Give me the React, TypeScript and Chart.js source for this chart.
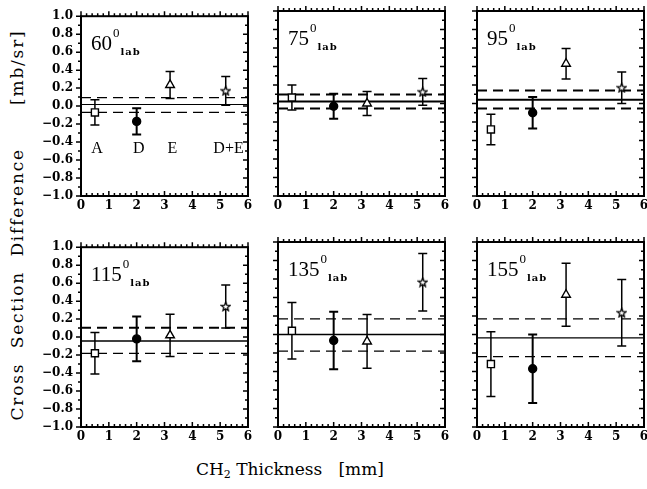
import React, { useEffect, useRef } from "react";
import { Chart, registerables } from "chart.js";

Chart.register(...registerables);

// ---- data ----
const angles = [60, 75, 95, 115, 135, 155];
const thickness = [0.5, 2.0, 3.2, 5.2];
const targetLabels = ["A", "D", "E", "D+E"];

const diffA = [-0.07, 0.065, -0.28, -0.18, 0.04, -0.32];
const errA = [0.14, 0.135, 0.165, 0.23, 0.305, 0.35];
const diffD = [-0.17, -0.03, -0.1, -0.02, -0.065, -0.37];
const errD = [0.145, 0.135, 0.17, 0.25, 0.31, 0.37];
const diffE = [0.235, 0.0, 0.43, 0.02, -0.075, 0.43];
const errE = [0.15, 0.13, 0.165, 0.235, 0.29, 0.34];
const diffDE = [0.17, 0.125, 0.17, 0.34, 0.565, 0.235];
const errDE = [0.16, 0.145, 0.17, 0.24, 0.31, 0.36];

const meanLine = [0.018, 0.022, 0.04, -0.043, 0.0, -0.036];
const bandUpper = [0.094, 0.098, 0.14, 0.104, 0.17, 0.17];
const bandLower = [-0.069, -0.054, -0.054, -0.18, -0.18, -0.24];

const xMin = 0;
const xMax = 6;
const yMin = -1;
const yMax = 1;

// ---- styles ----
const solidWidth = [1.2, 2, 2, 1.6, 1.6, 1.2];
const upperDashWidth = [1.2, 2, 2, 2, 1.2, 1.2];
const lowerDashWidth = [1.2, 2, 2, 1.2, 1.2, 1.2];

const COL_LEFT = [81, 278, 477];
const ROW_TOP = [11, 242];
const PLOT_W = 167;
const PLOT_H = 185;

let starImg: HTMLCanvasElement | null = null;
function getStar() {
  if (starImg) return starImg;
  const c = document.createElement("canvas");
  c.width = 11;
  c.height = 11;
  const ctx = c.getContext("2d")!;
  ctx.beginPath();
  for (let i = 0; i < 10; i++) {
    const r = i % 2 === 0 ? 4.6 : 2.0;
    const a = -Math.PI / 2 + (i * Math.PI) / 5;
    const x = 5.5 + r * Math.cos(a);
    const y = 5.8 + r * Math.sin(a);
    if (i === 0) ctx.moveTo(x, y);
    else ctx.lineTo(x, y);
  }
  ctx.closePath();
  ctx.fillStyle = "#fff";
  ctx.fill();
  ctx.lineWidth = 1.3;
  ctx.strokeStyle = "#000";
  ctx.stroke();
  starImg = c;
  return c;
}

function fmtY(v: number) {
  const n = Number(v);
  if (Math.abs(n) < 1e-9) return "0.0";
  const s = Math.abs(n).toFixed(1);
  return n < 0 ? "\u2212" + s : s;
}

function Panel({ idx }: { idx: number }) {
  const ref = useRef<HTMLCanvasElement>(null);
  const r = Math.floor(idx / 3);
  const c = idx % 3;
  const padL = c === 0 ? 50 : 10;
  const padR = 10;
  const padT = 10;
  const padB = 22;
  const W = padL + PLOT_W + padR;
  const H = padT + PLOT_H + padB;
  const left = COL_LEFT[c] - padL;
  const top = ROW_TOP[r] - padT;

  useEffect(() => {
    const vals = [diffA[idx], diffD[idx], diffE[idx], diffDE[idx]];
    const errs = [errA[idx], errD[idx], errE[idx], errDE[idx]];
    const star = getStar();

    const decor = {
      id: "decor",
      beforeDatasetDraw(chart: any, args: any) {
        if (args.index !== 3) return;
        const ctx = chart.ctx;
        const xs = chart.scales.x;
        const ys = chart.scales.y;
        ctx.save();
        ctx.strokeStyle = "#000";
        for (let i = 0; i < thickness.length; i++) {
          const px = xs.getPixelForValue(thickness[i]);
          const pt = ys.getPixelForValue(vals[i] + errs[i]);
          const pb = ys.getPixelForValue(vals[i] - errs[i]);
          ctx.lineWidth = i === 1 ? 2 : 1.5;
          ctx.beginPath();
          ctx.moveTo(px, pt);
          ctx.lineTo(px, pb);
          ctx.moveTo(px - 4.5, pt);
          ctx.lineTo(px + 4.5, pt);
          ctx.moveTo(px - 4.5, pb);
          ctx.lineTo(px + 4.5, pb);
          ctx.stroke();
        }
        ctx.restore();
      },
      afterDraw(chart: any) {
        const ctx = chart.ctx;
        const xs = chart.scales.x;
        const ys = chart.scales.y;
        const x0 = xs.getPixelForValue(xMin);
        const x1 = xs.getPixelForValue(xMax);
        const y0 = ys.getPixelForValue(yMax);
        const y1 = ys.getPixelForValue(yMin);
        ctx.save();
        ctx.strokeStyle = "#000";
        ctx.lineWidth = 2;
        ctx.strokeRect(x0, y0, x1 - x0, y1 - y0);
        ctx.lineWidth = 1.5;
        ctx.beginPath();
        // y ticks (pointing left on both sides)
        for (let k = -10; k <= 10; k++) {
          const py = ys.getPixelForValue(k / 10);
          const len = k % 2 === 0 ? 5 : 3;
          ctx.moveTo(x0 - len, py);
          ctx.lineTo(x0, py);
          ctx.moveTo(x1 - len, py);
          ctx.lineTo(x1, py);
        }
        // x ticks (pointing up on both sides)
        for (let k = 0; k <= 30; k++) {
          const px = xs.getPixelForValue(k / 5);
          const len = k % 5 === 0 ? 5 : 3;
          ctx.moveTo(px, y1);
          ctx.lineTo(px, y1 - len);
          ctx.moveTo(px, y0);
          ctx.lineTo(px, y0 - len);
        }
        ctx.stroke();

        // angle label
        ctx.fillStyle = "#000";
        ctx.textBaseline = "alphabetic";
        ctx.textAlign = "left";
        const lx = x0 + 10;
        ctx.font = "21px 'Liberation Serif'";
        const num = String(angles[idx]);
        ctx.fillText(num, lx, y0 + 34);
        const nw = ctx.measureText(num).width;
        ctx.font = "13px 'Liberation Serif'";
        ctx.fillText("0", lx + nw + 1, y0 + 21);
        const sw = ctx.measureText("0").width;
        ctx.font = "bold 10px 'DejaVu Serif'";
        (ctx as any).letterSpacing = "1px";
        ctx.fillText("lab", lx + nw + sw + 2, y0 + 39);
        (ctx as any).letterSpacing = "0px";

        if (idx === 0) {
          ctx.font = "16px 'Liberation Serif'";
          ctx.textAlign = "center";
          ctx.textBaseline = "middle";
          for (let i = 0; i < targetLabels.length; i++) {
            const px = xs.getPixelForValue(thickness[i] + (i === 3 ? 0.1 : 0.08));
            const py = ys.getPixelForValue(-0.48);
            ctx.fillText(targetLabels[i], px, py);
          }
        }
        ctx.restore();
      },
    };

    const lineDs = (y: number, w: number, dash: number[]) => ({
      type: "line" as const,
      data: [
        { x: xMin, y },
        { x: xMax, y },
      ],
      borderColor: "#000",
      borderWidth: w,
      borderDash: dash,
      pointRadius: 0,
      fill: false,
      order: 1,
    });

    const chart = new Chart(ref.current!, {
      type: "scatter",
      data: {
        datasets: [
          lineDs(meanLine[idx], solidWidth[idx], []),
          lineDs(bandUpper[idx], upperDashWidth[idx], [10, 6]),
          lineDs(bandLower[idx], lowerDashWidth[idx], [10, 6]),
          {
            type: "scatter" as const,
            data: thickness.map((x, i) => ({ x, y: vals[i] })),
            pointStyle: ["rect", "circle", "triangle", star] as any,
            pointRadius: [5, 4, 5, 5],
            backgroundColor: ["#fff", "#000", "#fff", "#fff"],
            borderColor: "#000",
            borderWidth: 1.4,
            order: 0,
          },
        ] as any,
      },
      options: {
        responsive: false,
        animation: false,
        devicePixelRatio: 1,
        color: "#000",
        layout: { padding: { left: 0, right: padR, top: padT, bottom: 0 } },
        plugins: {
          legend: { display: false },
          tooltip: { enabled: false },
        },
        scales: {
          x: {
            type: "linear",
            min: xMin,
            max: xMax,
            grid: { display: false, drawTicks: false },
            border: { display: false },
            ticks: {
              stepSize: 1,
              color: "#000",
              padding: 3,
              maxRotation: 0,
              autoSkip: false,
              font: { family: "'DejaVu Serif'", size: 12, weight: "bold" },
            },
            afterFit: (s: any) => {
              s.height = padB;
            },
          },
          y: {
            type: "linear",
            min: yMin,
            max: yMax,
            grid: { display: false, drawTicks: false },
            border: { display: false },
            ticks: {
              display: c === 0,
              stepSize: 0.2,
              color: "#000",
              padding: 8,
              autoSkip: false,
              font: { family: "'DejaVu Serif'", size: 12, weight: "bold" },
              callback: (v: any) => fmtY(v),
            },
            afterFit: (s: any) => {
              s.width = padL;
            },
          },
        },
      } as any,
      plugins: [decor],
    });
    return () => chart.destroy();
  }, [idx]);

  return (
    <canvas
      ref={ref}
      width={W}
      height={H}
      style={{ position: "absolute", left, top, width: W, height: H }}
    />
  );
}

export default function App() {
  return (
    <div
      style={{
        position: "absolute",
        left: 0,
        top: 0,
        width: 647,
        height: 489,
        background: "#fff",
        overflow: "hidden",
      }}
    >
      {angles.map((_, i) => (
        <Panel key={i} idx={i} />
      ))}
      <div
        style={{
          position: "absolute",
          left: 17,
          top: 225,
          transform: "translate(-50%, -50%) rotate(-90deg)",
          whiteSpace: "pre",
          fontFamily: "'DejaVu Serif'",
          fontSize: 17,
          letterSpacing: "1.8px",
          color: "#000",
          lineHeight: "20px",
        }}
      >
        {"Cross  Section  Difference      [mb/sr]"}
      </div>
      <div
        style={{
          position: "absolute",
          left: 290,
          top: 459,
          transform: "translateX(-50%)",
          whiteSpace: "pre",
          fontFamily: "'DejaVu Serif'",
          fontSize: 17,
          color: "#000",
          lineHeight: "20px",
        }}
      >
        CH<sub style={{ fontSize: 11, verticalAlign: "-3px", lineHeight: 0 }}>2</sub>
        {" Thickness   [mm]"}
      </div>
    </div>
  );
}
